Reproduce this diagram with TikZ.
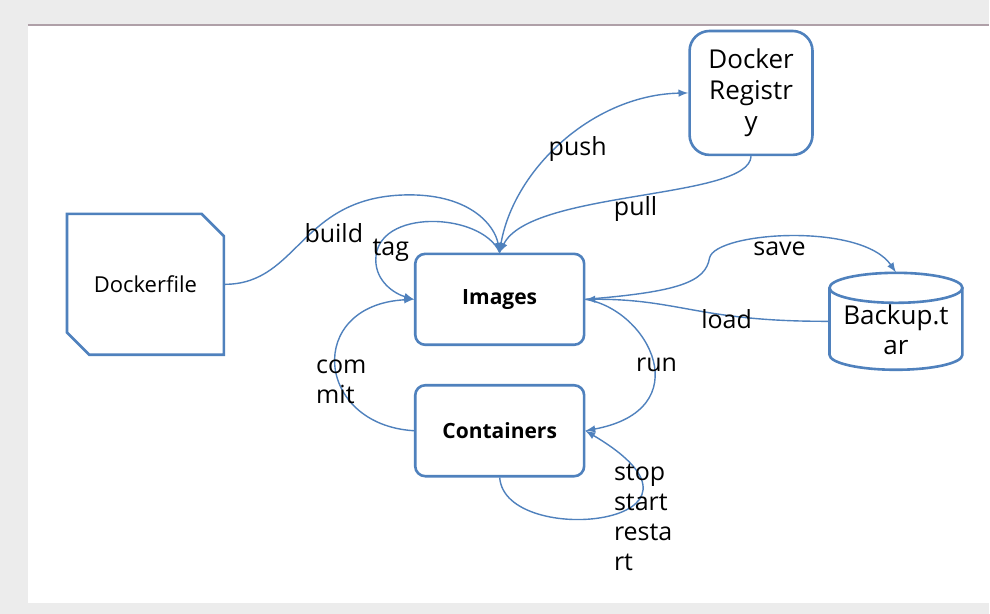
\documentclass[tikz,border=0pt]{standalone}
\usepackage{fontspec}
\setmainfont{Open Sans}
\usetikzlibrary{shapes,arrows,positioning,calc}

\definecolor{linkblue}{RGB}{79,129,189}
\definecolor{pagegray}{RGB}{236,236,236}
\definecolor{rulegray}{RGB}{175,160,168}

\tikzset{
    box/.style={draw=linkblue, line width=1.3pt, rounded corners=5pt, minimum width=84.5pt, minimum height=45.5pt, font=\fontsize{10.5}{13}\selectfont\bfseries},
    regbox/.style={draw=linkblue, line width=1.3pt, rounded corners=10pt, minimum width=61.5pt, minimum height=62pt, align=center, font=\fontsize{13}{15.5}\selectfont},
    filebox/.style={chamfered rectangle, chamfered rectangle corners={north east,south west}, chamfered rectangle xsep=11.5pt, draw=linkblue, line width=1.3pt, minimum width=78.5pt, minimum height=70.5pt, font=\fontsize{11}{13}\selectfont},
    tarbox/.style={minimum width=66.5pt, minimum height=48.5pt, inner sep=0pt},
    tarline/.style={draw=linkblue, line width=1.3pt},
    tartext/.style={align=center, inner sep=0pt, font=\fontsize{13}{15}\selectfont},
    flow/.style={draw=linkblue, line width=0.7pt, ->, >=latex},
    lbl/.style={font=\fontsize{12.5}{15}\selectfont, inner sep=0pt}
}

\begin{document}
\begin{tikzpicture}[x=0.5pt,y=-0.5pt]
    % Page
    \fill[pagegray] (0,0) rectangle (990,614);
    \fill[white] (28,25) rectangle (990,603);
    \draw[rulegray, line width=0.6pt] (28,25) -- (990,25);
    \useasboundingbox (0,0) rectangle (990,614);

    % Nodes
    \node[filebox] (dockerfile) at (145.5,284.5) {Dockerfile};
    \node[box] (images) at (500,299.5) {Images};
    \node[box] (containers) at (500,431) {Containers};
    \node[regbox] (registry) at (751.5,93) {Docker\\Registr\\y};

    % Backup cylinder
    \node[tarbox] (backup) at (896.5,321.5) {};
    \draw[tarline] (830,288) -- (830,355) arc[start angle=180, end angle=0, x radius=66.5, y radius=15] -- (963,288);
    \draw[tarline] (896.5,288) ellipse [x radius=66.5, y radius=15];
    \node[tartext] (backuptxt) at (896.5,330) {Backup.t\\ar};

    % build / tag
    \draw[flow] (dockerfile.east) .. controls (300,284) and (300,195) .. (410,195) .. controls (470,195) and (495,225) .. (images.north);
    \draw[flow] (images.north) .. controls (482,212) and (376,208) .. (376,260) .. controls (376,282) and (395,294) .. (images.west);

    % push / pull
    \draw[flow] (images.north) .. controls (508,175) and (590,95) .. (registry.west);
    \draw[flow] (registry.south) .. controls (750,200) and (530,190) .. (images.north);

    % save / load
    \draw[flow] (images.east) .. controls (680,292) and (706,282) .. (710,258) .. controls (716,232) and (862,222) .. (backup.north);
    \draw[flow] (backup.west) .. controls (700,322) and (680,299) .. (images.east);

    % run / commit
    \draw[flow] (images.east) .. controls (650,310) and (700,410) .. (containers.east);
    \draw[flow] (containers.west) .. controls (315,425) and (305,305) .. (images.west);

    % stop start restart
    \draw[flow] (containers.south) .. controls (505,550) and (745,525) .. (containers.east);

    % Labels
    \node[lbl] (buildlbl) at (334,233) {build};
    \node[lbl] (taglbl) at (391,250) {tag};
    \node[lbl] (pushlbl) at (578,149) {push};
    \node[lbl] (pulllbl) at (636,209) {pull};
    \node[lbl] (savelbl) at (780,249) {save};
    \node[lbl] (loadlbl) at (727,319) {load};
    \node[lbl, anchor=west, align=left] (commitlbl) at (316,382) {com\\mit};
    \node[lbl] (runlbl) at (657,365) {run};
    \node[lbl, anchor=west, align=left] (statelbl) at (614,518) {stop\\start\\resta\\rt};
\end{tikzpicture}
\end{document}
